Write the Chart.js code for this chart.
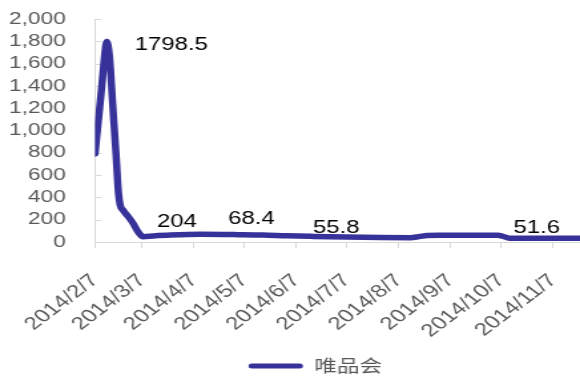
<!DOCTYPE html>
<html>
<head>
<meta charset="utf-8">
<script src="https://cdn.jsdelivr.net/npm/chart.js@4/dist/chart.umd.min.js"></script>
<style>
  html, body { margin: 0; padding: 0; background: #ffffff; overflow: hidden; }
  #chart { display: block; }
</style>
</head>
<body>
<canvas id="chart" width="436" height="378" style="width:580px;height:378px"></canvas>
<script>
// Days counted from 2014/2/7, with the matching series values
const days = [0, 2, 4, 5.5, 6.5, 7, 7.7, 8.7, 10.5, 12.5, 14, 15, 17, 19, 21, 23, 25.6, 28.6, 34.6, 45, 63, 85, 100, 114, 130, 150, 170, 188, 193, 198, 205, 240, 243, 247, 260, 275, 289];
const values = [790, 1090, 1390, 1640, 1770, 1798.5, 1770, 1660, 1247, 798, 440, 332, 280, 242, 204, 160, 92, 48, 54, 62, 68.4, 66, 63, 55.8, 50, 44, 40, 39, 48, 59, 61, 60, 51.6, 33, 34, 33, 33];
const seriesName = '唯品会';

// Monthly ticks on the date axis
const tickDays = [0, 28, 59, 89, 120, 150, 181, 212, 242, 273];
const tickLabels = ['2014/2/7', '2014/3/7', '2014/4/7', '2014/5/7', '2014/6/7', '2014/7/7', '2014/8/7', '2014/9/7', '2014/10/7', '2014/11/7'];

// Points that carry a value label
const labeledIdx = [5, 14, 20, 23, 32];

// Label placement relative to its point (px)
const labelOffsets = [[21, 3.5], [20, 2.5], [20.5, -15], [20, -7.5], [8, -8]];

const LINE_COLOR = '#37329a';
const AXIS_COLOR = '#d9d9d9';
const TEXT_GRAY = '#595959';
const LATIN = '"Liberation Sans", Arial, sans-serif';

const valueLabels = {
  id: 'valueLabels',
  afterDatasetsDraw(chart) {
    const meta = chart.getDatasetMeta(0);
    const ctx = chart.ctx;
    ctx.save();
    ctx.font = '18px ' + LATIN;
    ctx.fillStyle = '#000000';
    ctx.textAlign = 'left';
    ctx.textBaseline = 'middle';
    labeledIdx.forEach((idx, i) => {
      const pt = meta.data[idx];
      const [dx, dy] = labelOffsets[i];
      ctx.fillText(String(values[idx]), pt.x + dx, pt.y + dy);
    });
    ctx.restore();
  }
};

// Short tick marks on the inner side of the value axis
const innerTicks = {
  id: 'innerTicks',
  beforeDatasetsDraw(chart) {
    const y = chart.scales.y;
    const left = chart.chartArea.left;
    const ctx = chart.ctx;
    ctx.save();
    ctx.strokeStyle = AXIS_COLOR;
    ctx.lineWidth = 1;
    y.ticks.forEach(t => {
      const py = Math.round(y.getPixelForValue(t.value)) + 0.5;
      ctx.beginPath();
      ctx.moveTo(left, py);
      ctx.lineTo(left + 5, py);
      ctx.stroke();
    });
    ctx.restore();
  }
};

const legendShift = {
  id: 'legendShift',
  afterLayout(chart) {
    const lg = chart.legend;
    if (!lg) return;
    lg.left += 19; lg.right += 19;
    lg.top += 6.5; lg.bottom += 6.5;
  }
};

new Chart(document.getElementById('chart'), {
  type: 'line',
  data: {
    datasets: [{
      label: seriesName,
      data: days.map((d, i) => ({ x: d, y: values[i] })),
      borderColor: LINE_COLOR,
      backgroundColor: LINE_COLOR,
      borderWidth: 5.5,
      borderCapStyle: 'round',
      borderJoinStyle: 'round',
      pointRadius: 0,
      cubicInterpolationMode: 'monotone',
      fill: false
    }]
  },
  options: {
    responsive: false,
    animation: false,
    layout: { padding: { top: 19, right: 0, bottom: 0, left: 0 } },
    plugins: {
      tooltip: { enabled: false },
      legend: {
        position: 'bottom',
        labels: {
          boxWidth: 41,
          boxHeight: 5,
          color: TEXT_GRAY,
          font: { family: '"Noto Sans CJK SC", sans-serif', size: 17 },
          generateLabels(chart) {
            return chart.data.datasets.map((ds, i) => ({
              text: ds.label,
              fillStyle: ds.borderColor,
              strokeStyle: ds.borderColor,
              lineWidth: 0,
              fontColor: TEXT_GRAY,
              datasetIndex: i,
              borderRadius: 2.5
            }));
          }
        }
      }
    },
    scales: {
      x: {
        type: 'linear',
        min: 0,
        max: 289,
        border: { display: true, color: AXIS_COLOR, width: 1 },
        grid: { drawOnChartArea: false, drawTicks: true, tickLength: 6, color: AXIS_COLOR },
        afterBuildTicks(scale) {
          scale.ticks = tickDays.map(v => ({ value: v }));
        },
        afterFit(scale) {
          scale.height = 99;
          scale.paddingLeft = 0;
          scale.paddingRight = 0;
        },
        ticks: {
          autoSkip: false,
          maxRotation: 45,
          minRotation: 45,
          padding: 22,
          color: TEXT_GRAY,
          font: { family: LATIN, size: 18 },
          callback(value) {
            const i = tickDays.indexOf(value);
            return i >= 0 ? tickLabels[i] : '';
          }
        }
      },
      y: {
        min: 0,
        max: 2000,
        border: { display: true, color: AXIS_COLOR, width: 1 },
        grid: { display: true, drawOnChartArea: false, drawTicks: false },
        afterFit(scale) {
          scale.width = 71.4;
          scale.paddingTop = 0;
          scale.paddingBottom = 0;
        },
        ticks: {
          stepSize: 200,
          autoSkip: false,
          padding: 22,
          color: TEXT_GRAY,
          font: { family: LATIN, size: 17 },
          callback(value) {
            return value.toLocaleString('en-US');
          }
        }
      }
    }
  },
  plugins: [valueLabels, innerTicks, legendShift]
});
</script>
</body>
</html>
